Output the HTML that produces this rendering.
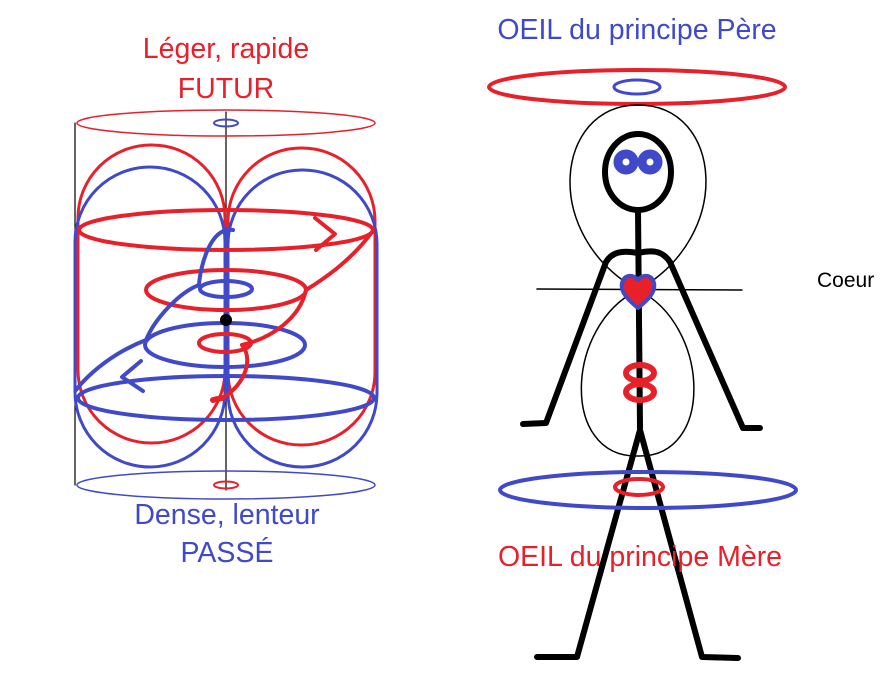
<!DOCTYPE html>
<html><head><meta charset="utf-8"><style>
body{margin:0;background:#fff;}
svg{display:block;}
text{font-family:"Liberation Sans",sans-serif;}
</style></head><body>
<svg width="894" height="677" viewBox="0 0 894 677" xmlns="http://www.w3.org/2000/svg">
<rect width="894" height="677" fill="#fff"/>
<g fill="none" stroke-linecap="round" stroke-linejoin="round">
<line x1="75" y1="123" x2="75" y2="485" stroke="#000" stroke-width="1.2"/>
<line x1="226" y1="112" x2="226" y2="490" stroke="#000" stroke-width="1.2"/>
<ellipse cx="226" cy="123" rx="149" ry="13" stroke="#e8202a" stroke-width="1.5"/>
<ellipse cx="226" cy="123" rx="12" ry="3.5" stroke="#4049c8" stroke-width="2"/>
<ellipse cx="226" cy="485" rx="149" ry="14" stroke="#4049c8" stroke-width="1.5"/>
<ellipse cx="226" cy="485" rx="12" ry="3.5" stroke="#e8202a" stroke-width="2"/>
<rect x="78" y="145" width="147" height="298" rx="73" stroke="#e8202a" stroke-width="3"/>
<rect x="228" y="148" width="147" height="297" rx="73" stroke="#e8202a" stroke-width="3"/>
<rect x="75" y="167" width="150" height="300" rx="75" stroke="#4049c8" stroke-width="3"/>
<rect x="228" y="170" width="149" height="297" rx="74" stroke="#4049c8" stroke-width="3"/>
<line x1="226" y1="229" x2="226" y2="400" stroke="#4049c8" stroke-width="4"/>
<ellipse cx="226" cy="230" rx="147" ry="20" stroke="#e8202a" stroke-width="4"/>
<polyline points="315,218 335,234 316,250" stroke="#e8202a" stroke-width="4"/>
<ellipse cx="226" cy="290" rx="80" ry="20" stroke="#e8202a" stroke-width="4"/>
<ellipse cx="226" cy="289" rx="26" ry="8" stroke="#4049c8" stroke-width="4"/>
<ellipse cx="225" cy="345" rx="80" ry="22" stroke="#4049c8" stroke-width="4"/>
<ellipse cx="225" cy="343" rx="26" ry="9" stroke="#e8202a" stroke-width="4"/>
<ellipse cx="226" cy="398" rx="148" ry="22" stroke="#4049c8" stroke-width="4"/>
<polyline points="141,361 122,377 143,391" stroke="#4049c8" stroke-width="4"/>
<path d="M233,230 C210,226 200,268 199,285 C180,292 155,318 146,340 C115,352 90,372 76,390" stroke="#4049c8" stroke-width="4"/>
<path d="M372,232 C350,262 322,280 306,290 C300,318 272,338 242,345 C256,362 240,392 217,400" stroke="#e8202a" stroke-width="4"/>
<path d="M213,400 L222,398" stroke="#e8202a" stroke-width="6"/>
<circle cx="226" cy="320" r="6" fill="#000" stroke="none"/>
<!-- figure -->
<ellipse cx="637" cy="87" rx="148" ry="17" stroke="#e8202a" stroke-width="4"/>
<ellipse cx="637" cy="87" rx="23" ry="7" stroke="#4049c8" stroke-width="3"/>
<path d="M638,290 C540,235 555,105 638,105 C722,105 735,235 638,290" stroke="#000" stroke-width="1.5"/>
<path d="M638,290 C565,325 560,458 638,456 C715,458 710,325 638,290" stroke="#000" stroke-width="1.5"/>
<line x1="537" y1="289" x2="742" y2="290" stroke="#000" stroke-width="1.5"/>
<ellipse cx="638" cy="172" rx="33" ry="38" stroke="#000" stroke-width="6"/>
<circle cx="626" cy="162" r="8" stroke="#4049c8" stroke-width="9"/>
<circle cx="650" cy="162" r="8" stroke="#4049c8" stroke-width="9"/>
<line x1="638" y1="210" x2="640" y2="428" stroke="#000" stroke-width="6"/>
<path d="M523,424 L546,423 L606,262 C612,252 622,250 638,253 C652,250 662,250 670,262 L743,428 L760,428" stroke="#000" stroke-width="6"/>
<path d="M537,657 L577,657 L640,430 L702,657 L738,658" stroke="#000" stroke-width="6"/>
<path d="M638,308 C628,300 620,292 622,283 C624,274 634,274 638,280 C642,274 652,274 654,283 C656,292 648,300 638,308 Z" fill="#e8202a" stroke="#4049c8" stroke-width="4"/>
<ellipse cx="640" cy="373" rx="14" ry="8" stroke="#e8202a" stroke-width="6"/>
<ellipse cx="640" cy="392" rx="14" ry="8" stroke="#e8202a" stroke-width="6"/>
<ellipse cx="648" cy="490" rx="148" ry="18" stroke="#4049c8" stroke-width="4"/>
<ellipse cx="639" cy="487" rx="24" ry="8" stroke="#e8202a" stroke-width="4"/>
</g>
<g font-size="28.5" text-anchor="middle">
<text x="226" y="58" fill="#e8202a">Léger, rapide</text>
<text x="226" y="98" fill="#e8202a">FUTUR</text>
<text x="227" y="524" fill="#4049c8">Dense, lenteur</text>
<text x="227" y="562" fill="#4049c8">PASSÉ</text>
<text x="637" y="39" fill="#4049c8">OEIL du principe Père</text>
<text x="640" y="566" fill="#e8202a">OEIL du principe Mère</text>
</g>
<text x="817" y="287" font-size="21" fill="#000">Coeur</text>
</svg>
</body></html>
